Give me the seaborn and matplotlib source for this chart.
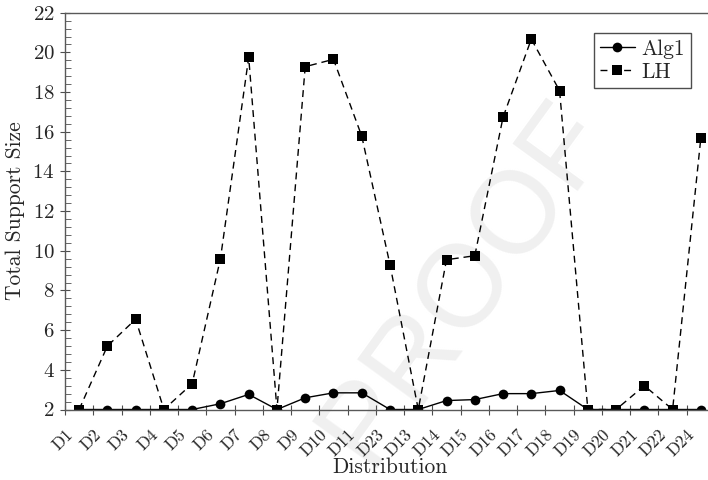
# support size comparison, Alg1 vs LH
import numpy as np
import pandas as pd
import matplotlib
matplotlib.use('Agg')
import matplotlib.pyplot as plt
import seaborn as sns
from matplotlib.ticker import MultipleLocator, AutoMinorLocator

# data
distributions = ['D1', 'D2', 'D3', 'D4', 'D5', 'D6', 'D7', 'D8', 'D9', 'D10', 'D11', 'D23',
                 'D13', 'D14', 'D15', 'D16', 'D17', 'D18', 'D19', 'D20', 'D21', 'D22', 'D24']
alg1 = [2, 2, 2, 2, 2, 2.29, 2.76, 2, 2.59, 2.84, 2.84, 2,
        2, 2.45, 2.5, 2.8, 2.8, 2.96, 2, 2, 2, 2, 2]
lh = [2, 5.2, 6.55, 2, 3.3, 9.6, 19.75, 2, 19.28, 19.65, 15.78, 9.3,
      2, 9.55, 9.75, 16.73, 20.67, 18.07, 2, 2, 3.2, 2, 15.7]

sns.set_style('white')
plt.rcParams['font.family'] = 'serif'
plt.rcParams['font.serif'] = ['cmr10', 'DejaVu Serif']
plt.rcParams['mathtext.fontset'] = 'cm'
plt.rcParams['axes.unicode_minus'] = False
plt.rcParams['axes.formatter.use_mathtext'] = True

df = pd.DataFrame({'pos': np.arange(len(distributions)) + 0.5,
                   'Alg1': alg1, 'LH': lh})

fig = plt.figure(figsize=(7.08, 4.8), dpi=100)
ax = fig.add_axes([65 / 708, 1 - 409.5 / 480, 650 / 708, 396.8 / 480])

sns.lineplot(data=df, x='pos', y='Alg1', ax=ax, color='black', marker='o',
             markersize=7, markeredgewidth=0, linewidth=1, label='Alg1')
sns.lineplot(data=df, x='pos', y='LH', ax=ax, color='black', marker='s',
             markersize=7.5, markeredgewidth=0, linewidth=1,
             linestyle=(0, (5, 3.5)), label='LH')

ax.set_xlim(0, 23)
ax.set_ylim(2, 22)
ax.set_xticks(np.arange(len(distributions)))
ax.set_xticklabels(distributions, rotation=45, ha='right', va='top',
                   rotation_mode='anchor')
ax.yaxis.set_major_locator(MultipleLocator(2))
ax.yaxis.set_minor_locator(AutoMinorLocator(5))
ax.tick_params(axis='both', which='major', direction='inout', length=7,
               width=0.8, color='0.3', bottom=True, left=True)
ax.tick_params(axis='y', which='minor', direction='in', length=4,
               width=0.6, color='0.3', left=True)
ax.tick_params(axis='y', labelsize=15, pad=4)
ax.tick_params(axis='x', labelsize=12.5, pad=9)

for s in ax.spines.values():
    s.set_color('0.35')
    s.set_linewidth(1)

ax.set_xlabel('Distribution', fontsize=15.5, labelpad=-1)
ax.set_ylabel('Total Support Size', fontsize=15.5, labelpad=5)

ax.legend(loc='upper right', bbox_to_anchor=(0.963, 0.949), borderaxespad=0,
          fancybox=False, edgecolor='0.3', framealpha=1, fontsize=15.5,
          handlelength=1.6, borderpad=0.3, labelspacing=0.15, handletextpad=0.3)

# watermark
ax.text(0.657, 0.41, 'PROOF', transform=fig.transFigure, rotation=54,
        fontsize=84, color='0.94', family='Liberation Sans',
        ha='center', va='center', zorder=0.5, clip_on=False)

fig.savefig('out.png', dpi=100)
